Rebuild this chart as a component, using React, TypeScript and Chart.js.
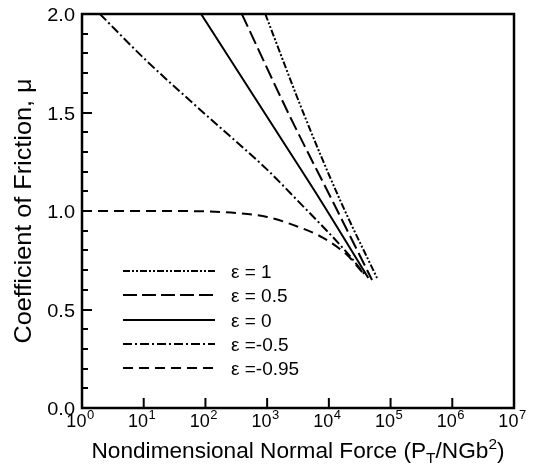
import React, { useEffect, useRef } from "react";
import { Chart, registerables } from "chart.js";

Chart.register(...registerables);

// ---- Data (x = P_T/NGb^2, y = mu) ----
const epsLabels = ["ε = 1", "ε = 0.5", "ε = 0", "ε =-0.5", "ε =-0.95"];

const eps1X = [933, 4070, 15100, 60300];
const eps1Y = [2.0, 1.48, 1.057, 0.66];

const eps05X = [389, 2340, 11200, 50100];
const eps05Y = [2.0, 1.48, 1.057, 0.65];

const eps0X = [85, 1740, 7240, 43600];
const eps0Y = [2.0, 1.36, 1.057, 0.66];

const epsM05X = [1.95, 10.5, 100, 1000, 3020, 19500, 38900];
const epsM05Y = [2.0, 1.77, 1.49, 1.21, 1.057, 0.79, 0.675];

const epsM095X = [1, 10, 31.6, 100, 316, 1000, 3160, 7940, 20000, 34700];
const epsM095Y = [1.0, 1.0, 1.0, 0.998, 0.99, 0.97, 0.92, 0.865, 0.775, 0.69];

const yTickValues = [0, 0.5, 1.0, 1.5, 2.0];
const xTickExponents = [0, 1, 2, 3, 4, 5, 6, 7];

const dashes: number[][] = [
  [7, 2, 2, 2, 2, 2],
  [14, 5],
  [],
  [9, 3, 2, 3],
  [10, 6],
];

const FONT = '"Liberation Sans", Arial, Helvetica, sans-serif';

function pts(xs: number[], ys: number[]) {
  return xs.map((x, i) => ({ x, y: ys[i] }));
}

function drawFit(
  ctx: CanvasRenderingContext2D,
  text: string,
  size: number,
  sx: number
) {
  ctx.font = `${size}px ${FONT}`;
  ctx.save();
  ctx.scale(sx, 1);
  ctx.fillText(text, 0, 0);
  ctx.restore();
  return ctx.measureText(text).width * sx;
}

const decorPlugin = {
  id: "decor",
  afterDraw(chart: any) {
    const ctx: CanvasRenderingContext2D = chart.ctx;
    const { left, top, right, bottom } = chart.chartArea;
    const xs = chart.scales.x;
    const ys = chart.scales.y;
    ctx.save();
    ctx.fillStyle = "#000";
    ctx.strokeStyle = "#000";

    // frame
    ctx.lineWidth = 2.5;
    ctx.setLineDash([]);
    ctx.strokeRect(left, top, right - left, bottom - top);

    // y ticks (inward)
    ctx.lineWidth = 2;
    for (let i = 0; i <= 20; i++) {
      const py = Math.round(ys.getPixelForValue(i * 0.1));
      const len = i % 5 === 0 ? 10 : 6;
      ctx.beginPath();
      ctx.moveTo(left, py);
      ctx.lineTo(left + len, py);
      ctx.stroke();
    }
    // x ticks (inward)
    xTickExponents.forEach((k) => {
      const px = xs.getPixelForValue(Math.pow(10, k));
      ctx.beginPath();
      ctx.moveTo(px, bottom);
      ctx.lineTo(px, bottom - 10);
      ctx.stroke();
    });

    // y tick labels
    ctx.textBaseline = "alphabetic";
    ctx.textAlign = "left";
    yTickValues.forEach((v) => {
      const py = ys.getPixelForValue(v);
      const t = v.toFixed(1);
      ctx.font = `19px ${FONT}`;
      const w = ctx.measureText(t).width * 1.05;
      ctx.save();
      ctx.translate(left - 7 - w, py + 7);
      drawFit(ctx, t, 19, 1.05);
      ctx.restore();
    });

    // x tick labels 10^k
    xTickExponents.forEach((k) => {
      const px = xs.getPixelForValue(Math.pow(10, k));
      ctx.font = `18px ${FONT}`;
      const wb = ctx.measureText("10").width;
      ctx.font = `13px ${FONT}`;
      const ws = ctx.measureText(String(k)).width;
      const x0 = px - 2 - (wb + ws) / 2;
      ctx.save();
      ctx.translate(x0, bottom + 19);
      drawFit(ctx, "10", 18, 1);
      ctx.restore();
      ctx.save();
      ctx.translate(x0 + wb + 0.5, bottom + 11);
      drawFit(ctx, String(k), 13, 1);
      ctx.restore();
    });

    // x title with sub/superscript
    {
      const parts: [string, number, number][] = [
        ["Nondimensional Normal Force (P", 22, 0],
        ["T", 15, 5],
        ["/NGb", 22, 0],
        ["2", 15, -9],
        [")", 22, 0],
      ];
      let total = 0;
      parts.forEach(([t, s]) => {
        ctx.font = `${s}px ${FONT}`;
        total += ctx.measureText(t).width;
      });
      const target = 413;
      const sx = target / total;
      let x = (left + right) / 2 - target / 2;
      const base = bottom + 50;
      parts.forEach(([t, s, dy]) => {
        ctx.save();
        ctx.translate(x, base + dy);
        const w = drawFit(ctx, t, s, sx);
        ctx.restore();
        x += w;
      });
    }

    // y title (rotated)
    {
      const t = "Coefficient of Friction, μ";
      ctx.font = `24px ${FONT}`;
      const w = ctx.measureText(t).width;
      const target = 265;
      const sx = target / w;
      ctx.save();
      ctx.translate(31, (top + bottom) / 2 + target / 2);
      ctx.rotate(-Math.PI / 2);
      drawFit(ctx, t, 24, sx);
      ctx.restore();
    }

    // legend
    const rows = [271, 295, 320, 344, 368];
    epsLabels.forEach((lab, i) => {
      const y = rows[i];
      ctx.lineWidth = 2;
      ctx.setLineDash(dashes[i]);
      ctx.beginPath();
      ctx.moveTo(123, y);
      ctx.lineTo(215, y);
      ctx.stroke();
      ctx.setLineDash([]);
      ctx.save();
      ctx.translate(231, y + 7);
      drawFit(ctx, lab, 19, 1);
      ctx.restore();
    });

    ctx.restore();
  },
};

export default function App() {
  const ref = useRef<HTMLCanvasElement | null>(null);
  useEffect(() => {
    document.body.style.margin = "0";
    const canvas = ref.current!;
    const series = [
      pts(eps1X, eps1Y),
      pts(eps05X, eps05Y),
      pts(eps0X, eps0Y),
      pts(epsM05X, epsM05Y),
      pts(epsM095X, epsM095Y),
    ];
    const chart = new Chart(canvas, {
      type: "line",
      data: {
        datasets: series.map((d, i) => ({
          label: epsLabels[i],
          data: d,
          borderColor: "#000",
          borderWidth: 2,
          borderDash: dashes[i],
          pointRadius: 0,
          fill: false,
          tension: 0.3,
          cubicInterpolationMode: "monotone" as const,
        })),
      },
      options: {
        responsive: false,
        animation: false,
        parsing: false as any,
        layout: { padding: { left: 82, top: 14, right: 22, bottom: 58 } },
        plugins: { legend: { display: false }, tooltip: { enabled: false } },
        scales: {
          x: { type: "logarithmic", min: 1, max: 1e7, display: false },
          y: { type: "linear", min: 0, max: 2, display: false },
        },
      },
      plugins: [decorPlugin],
    });
    return () => chart.destroy();
  }, []);
  return (
    <div style={{ position: "absolute", left: 0, top: 0, width: 536, height: 466, background: "#fff" }}>
      <canvas ref={ref} width={536} height={466} style={{ width: 536, height: 466, display: "block" }} />
    </div>
  );
}
